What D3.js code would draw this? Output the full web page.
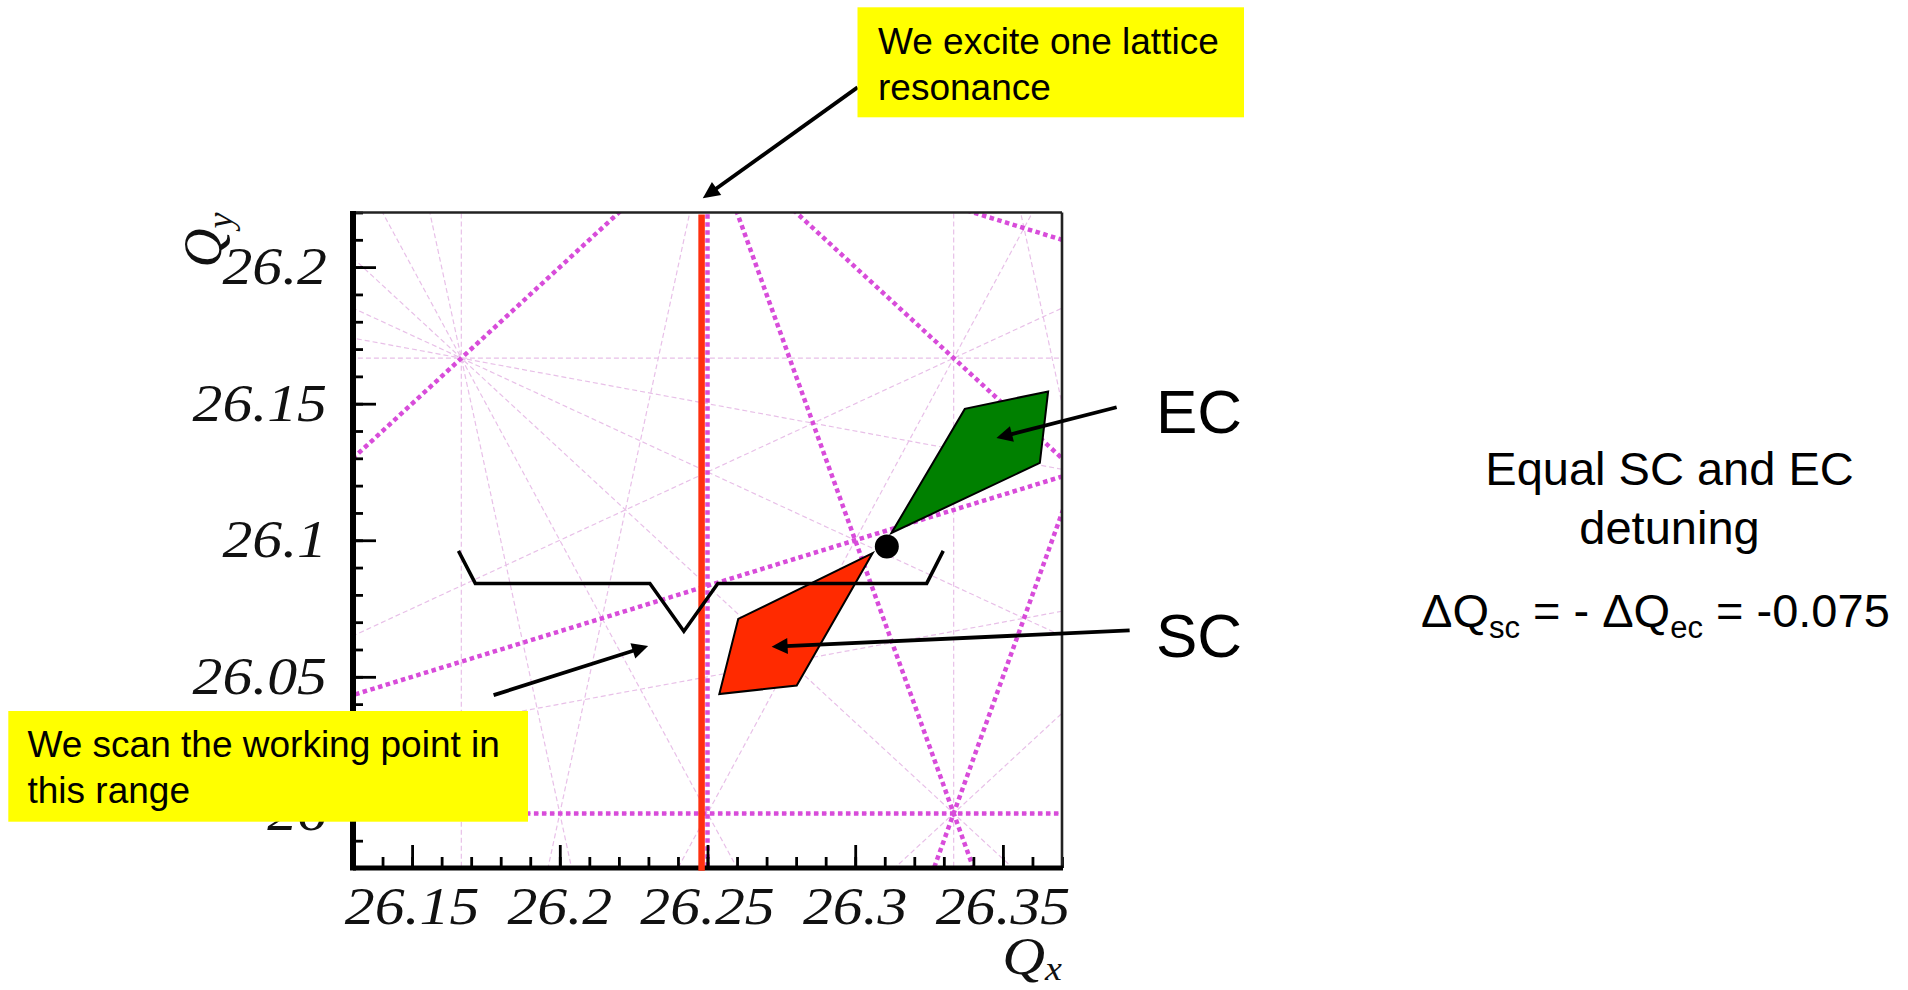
<!DOCTYPE html>
<html>
<head>
<meta charset="utf-8">
<title>Tune diagram – SC / EC detuning</title>
<script src="https://cdn.jsdelivr.net/npm/d3@7"></script>
<style>
  html, body { margin: 0; padding: 0; background: #ffffff; }
  svg { display: block; }
  .sans { font-family: "Liberation Sans", Arial, sans-serif; fill: #000; }
  .serif { font-family: "Liberation Serif", "Times New Roman", serif; font-style: italic; fill: #111; }
</style>
</head>
<body>
<svg id="chart" width="1908" height="990"></svg>
<script>
// ---- tune window and axis ticks ----
const qxDomain = [26.13, 26.37];
const qyDomain = [25.98, 26.22];
const xTickValues = [26.15, 26.2, 26.25, 26.3, 26.35];
const xTickLabels = ["26.15", "26.2", "26.25", "26.3", "26.35"];
const yTickValues = [26, 26.05, 26.1, 26.15, 26.2];
const yTickLabels = ["26", "26.05", "26.1", "26.15", "26.2"];

// ---- resonance lines  m*Qx + n*Qy = p ----
const fourthOrderLines = [
  [4, 0, 105], [0, 4, 104], [3, 1, 105], [2, 2, 105], [1, 3, 105],
  [3, -1, 53], [2, -2, 0], [1, -3, -52]
];
const sixthOrderLines = [
  [6, 0, 157], [6, 0, 158], [0, 6, 156], [0, 6, 157],
  [5, 1, 157], [5, 1, 158], [4, 2, 157], [3, 3, 157], [2, 4, 157], [1, 5, 157],
  [5, -1, 105], [4, -2, 53], [3, -3, 0], [3, -3, 1], [2, -4, -52], [1, -5, -104]
];

// ---- excited resonance, working point and tune footprints ----
const excitedQx = 26.248;
const workingPoint = [26.3107, 26.0977];
const ecFootprint = [[26.3123, 26.1027], [26.3371, 26.1481], [26.3653, 26.1545], [26.3625, 26.1283]];
const scFootprint = [[26.3059, 26.0953], [26.2604, 26.0712], [26.2540, 26.0437], [26.2802, 26.0468]];
const scanRange = [[26.1657, 26.0961], [26.1714, 26.0842], [26.2305, 26.0842], [26.2420, 26.0667],
                   [26.2535, 26.0842], [26.3242, 26.0842], [26.3298, 26.0961]];

// annotation arrows (tail -> tip) in tune coordinates
const arrowExcite = [[26.3008, 26.2658], [26.2484, 26.2252]];
const arrowScan   = [[26.1776, 26.0433], [26.2299, 26.0613]];
const arrowEC     = [[26.3885, 26.1487], [26.3478, 26.1374]];
const arrowSC     = [[26.3929, 26.0670], [26.2717, 26.0610]];

// ---- layout ----
const plot = { left: 353, right: 1062, top: 212.5, bottom: 868 };
const svg = d3.select("#chart");
svg.append("rect").attr("width", 1908).attr("height", 990).attr("fill", "#fff");

const x = d3.scaleLinear().domain(qxDomain).range([plot.left, plot.right]);
const y = d3.scaleLinear().domain(qyDomain).range([plot.bottom, plot.top]);

svg.append("clipPath").attr("id", "plotClip")
  .append("rect")
  .attr("x", plot.left).attr("y", plot.top)
  .attr("width", plot.right - plot.left).attr("height", plot.bottom - plot.top);

const line = d3.line().x(d => x(d[0])).y(d => y(d[1]));

function resonanceSegment([m, n, p]) {
  if (n === 0) {
    const qx = p / m;
    return [[qx, qyDomain[0] - 0.02], [qx, qyDomain[1] + 0.02]];
  }
  const xa = qxDomain[0] - 0.02, xb = qxDomain[1] + 0.02;
  return [[xa, (p - m * xa) / n], [xb, (p - m * xb) / n]];
}

const lines = svg.append("g").attr("clip-path", "url(#plotClip)");

// higher-order lines: faint dashed
lines.selectAll("path.o6").data(sixthOrderLines).join("path")
  .attr("class", "o6")
  .attr("d", d => line(resonanceSegment(d)))
  .attr("fill", "none")
  .attr("stroke", "#e8c0e8")
  .attr("stroke-width", 1.2)
  .attr("stroke-dasharray", "5 3");

// fourth-order lines: bold dotted magenta
lines.selectAll("path.o4").data(fourthOrderLines).join("path")
  .attr("class", "o4")
  .attr("d", d => line(resonanceSegment(d)))
  .attr("fill", "none")
  .attr("stroke", "#d84cda")
  .attr("stroke-width", 4.5)
  .attr("stroke-dasharray", "4.5 3.5");

// ---- axes: inward ticks ----
const minorX = x.ticks(24), minorY = y.ticks(24);
const axes = svg.append("g");

const xAxisMinor = d3.axisBottom(x).tickValues(minorX).tickSize(-11).tickSizeOuter(0).tickFormat("");
const xAxisMajor = d3.axisBottom(x).tickValues(xTickValues).tickSize(-23).tickSizeOuter(0).tickFormat("");
const yAxisMinor = d3.axisLeft(y).tickValues(minorY).tickSize(-10).tickSizeOuter(0).tickFormat("");
const yAxisMajor = d3.axisLeft(y).tickValues(yTickValues).tickSize(-23).tickSizeOuter(0).tickFormat("");

[xAxisMinor, xAxisMajor].forEach(a => {
  axes.append("g").attr("transform", `translate(0,${plot.bottom})`).call(a)
    .call(g => g.select(".domain").remove())
    .call(g => g.selectAll("line").attr("stroke", "#000").attr("stroke-width", 2.8));
});
[yAxisMinor, yAxisMajor].forEach(a => {
  axes.append("g").attr("transform", `translate(${plot.left},0)`).call(a)
    .call(g => g.select(".domain").remove())
    .call(g => g.selectAll("line").attr("stroke", "#000").attr("stroke-width", 2.8));
});

// frame
axes.append("line").attr("x1", plot.left).attr("x2", plot.right).attr("y1", plot.top).attr("y2", plot.top)
  .attr("stroke", "#222").attr("stroke-width", 2.6);
axes.append("line").attr("x1", plot.right).attr("x2", plot.right).attr("y1", plot.top).attr("y2", plot.bottom)
  .attr("stroke", "#222").attr("stroke-width", 2.6);
axes.append("line").attr("x1", plot.left).attr("x2", plot.right + 1).attr("y1", plot.bottom).attr("y2", plot.bottom)
  .attr("stroke", "#000").attr("stroke-width", 5);
axes.append("line").attr("x1", plot.left).attr("x2", plot.left).attr("y1", plot.top - 1.5).attr("y2", plot.bottom + 2.5)
  .attr("stroke", "#000").attr("stroke-width", 6);

// tick labels
const labelScale = "scale(1.15,1)";
axes.selectAll("text.xl").data(xTickValues).join("text")
  .attr("class", "serif xl")
  .attr("transform", d => `translate(${x(d)},${plot.bottom + 56}) ${labelScale}`)
  .attr("text-anchor", "middle")
  .attr("font-size", 52)
  .text((d, i) => xTickLabels[i]);

axes.selectAll("text.yl").data(yTickValues).join("text")
  .attr("class", "serif yl")
  .attr("transform", d => `translate(327,${y(d) + 17}) ${labelScale}`)
  .attr("text-anchor", "end")
  .attr("font-size", 52)
  .text((d, i) => yTickLabels[i]);

// axis titles
const qxTitle = axes.append("text").attr("class", "serif")
  .attr("transform", `translate(${plot.right},974) scale(1.12,1)`)
  .attr("text-anchor", "end").attr("font-size", 53);
qxTitle.append("tspan").text("Q");
qxTitle.append("tspan").attr("font-size", 34).attr("dy", 6).text("x");

const qyTitle = axes.append("text").attr("class", "serif")
  .attr("transform", `translate(221,${plot.top}) rotate(-90)`)
  .attr("text-anchor", "end").attr("font-size", 54);
qyTitle.append("tspan").text("Q");
qyTitle.append("tspan").attr("font-size", 36).attr("dy", 11).text("y");

// ---- excited lattice resonance ----
svg.append("line")
  .attr("x1", x(excitedQx)).attr("x2", x(excitedQx))
  .attr("y1", y(26.2193)).attr("y2", y(25.979))
  .attr("stroke", "#ff3010").attr("stroke-width", 6.5);

// ---- tune footprints ----
svg.append("path").datum(ecFootprint)
  .attr("d", d => line(d) + "Z")
  .attr("fill", "#008000").attr("stroke", "#000").attr("stroke-width", 2).attr("stroke-linejoin", "miter");
svg.append("path").datum(scFootprint)
  .attr("d", d => line(d) + "Z")
  .attr("fill", "#ff2a00").attr("stroke", "#000").attr("stroke-width", 2).attr("stroke-linejoin", "miter");
svg.append("circle")
  .attr("cx", x(workingPoint[0])).attr("cy", y(workingPoint[1])).attr("r", 12)
  .attr("fill", "#000");

// scan range bracket
svg.append("path").datum(scanRange)
  .attr("d", line)
  .attr("fill", "none").attr("stroke", "#000").attr("stroke-width", 3.5).attr("stroke-linejoin", "miter");

// ---- arrows ----
function drawArrow(seg, width, headLen, headHalf) {
  const [tx, ty] = [x(seg[0][0]), y(seg[0][1])];
  const [hx, hy] = [x(seg[1][0]), y(seg[1][1])];
  const len = Math.hypot(hx - tx, hy - ty);
  const ux = (hx - tx) / len, uy = (hy - ty) / len;
  const bx = hx - ux * headLen, by = hy - uy * headLen;
  const g = svg.append("g");
  g.append("line").attr("x1", tx).attr("y1", ty).attr("x2", bx + ux * 2).attr("y2", by + uy * 2)
    .attr("stroke", "#000").attr("stroke-width", width);
  g.append("path")
    .attr("d", `M${hx},${hy}L${bx - uy * headHalf},${by + ux * headHalf}L${bx + uy * headHalf},${by - ux * headHalf}Z`)
    .attr("fill", "#000");
}
drawArrow(arrowExcite, 3.8, 17, 8);
drawArrow(arrowScan, 3.8, 16, 8);
drawArrow(arrowEC, 3.8, 16, 8);
drawArrow(arrowSC, 3.8, 16, 8);

// ---- callout boxes ----
function callout(bx, by, bw, bh, tx, baselines, lines) {
  const g = svg.append("g");
  g.append("rect").attr("x", bx).attr("y", by).attr("width", bw).attr("height", bh).attr("fill", "#ffff00");
  lines.forEach((t, i) => {
    g.append("text").attr("class", "sans").attr("x", tx).attr("y", baselines[i])
      .attr("font-size", 37).text(t);
  });
}
callout(857.5, 7.3, 386.5, 110, 878, [53.5, 99.5], ["We excite one lattice", "resonance"]);
callout(8.3, 711, 519.7, 110.7, 27.5, [757, 803], ["We scan the working point in", "this range"]);

// ---- footprint labels ----
svg.append("text").attr("class", "sans").attr("x", 1156).attr("y", 433).attr("font-size", 62).text("EC");
svg.append("text").attr("class", "sans").attr("x", 1156).attr("y", 657).attr("font-size", 62).text("SC");

// ---- detuning note ----
svg.append("text").attr("class", "sans").attr("x", 1669.5).attr("y", 485)
  .attr("text-anchor", "middle").attr("font-size", 47).text("Equal SC and EC");
svg.append("text").attr("class", "sans").attr("x", 1669.5).attr("y", 544)
  .attr("text-anchor", "middle").attr("font-size", 47).text("detuning");

const formula = svg.append("text").attr("class", "sans").attr("x", 1421).attr("y", 627).attr("font-size", 47);
formula.append("tspan").text("\u0394Q");
formula.append("tspan").attr("font-size", 31).attr("dy", 11).text("sc");
formula.append("tspan").attr("dy", -11).text(" = - \u0394Q");
formula.append("tspan").attr("font-size", 31).attr("dy", 11).text("ec");
formula.append("tspan").attr("dy", -11).text(" = -0.075");
</script>
</body>
</html>
